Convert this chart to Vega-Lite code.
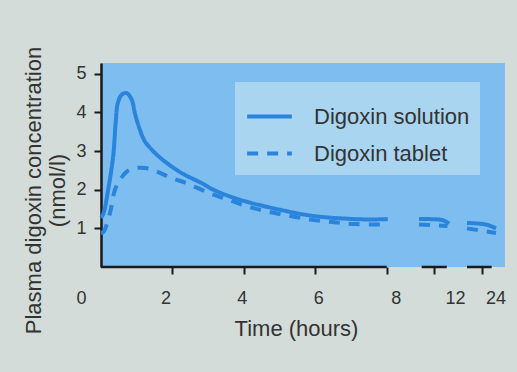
{
  "$schema": "https://vega.github.io/schema/vega-lite/v6.json",
  "width": 404,
  "height": 204,
  "autosize": "none",
  "padding": {"left": 101, "top": 63, "right": 12, "bottom": 105},
  "background": "#d3dcd9",
  "config": {
    "view": {"fill": "#7dbdef", "stroke": null},
    "font": "Liberation Sans",
    "axis": {"labelFont": "Liberation Sans", "titleFont": "Liberation Sans", "labelColor": "#333333", "titleColor": "#333333", "titleFontWeight": "normal", "grid": false, "domainColor": "#1a1a1a", "tickColor": "#1a1a1a", "tickWidth": 2, "domainWidth": 2.5}
  },
  "datasets": {
    "curves": [
      {"series": "Digoxin solution", "seg": "a", "t": 0, "v": 1.27},
      {"series": "Digoxin solution", "seg": "a", "t": 0.07, "v": 1.39},
      {"series": "Digoxin solution", "seg": "a", "t": 0.2, "v": 2.0},
      {"series": "Digoxin solution", "seg": "a", "t": 0.34, "v": 2.86},
      {"series": "Digoxin solution", "seg": "a", "t": 0.41, "v": 3.72},
      {"series": "Digoxin solution", "seg": "a", "t": 0.47, "v": 4.24},
      {"series": "Digoxin solution", "seg": "a", "t": 0.58, "v": 4.46},
      {"series": "Digoxin solution", "seg": "a", "t": 0.72, "v": 4.5},
      {"series": "Digoxin solution", "seg": "a", "t": 0.86, "v": 4.33},
      {"series": "Digoxin solution", "seg": "a", "t": 0.95, "v": 3.98},
      {"series": "Digoxin solution", "seg": "a", "t": 1.09, "v": 3.55},
      {"series": "Digoxin solution", "seg": "a", "t": 1.23, "v": 3.25},
      {"series": "Digoxin solution", "seg": "a", "t": 1.47, "v": 2.99},
      {"series": "Digoxin solution", "seg": "a", "t": 1.79, "v": 2.73},
      {"series": "Digoxin solution", "seg": "a", "t": 2.26, "v": 2.43},
      {"series": "Digoxin solution", "seg": "a", "t": 2.82, "v": 2.17},
      {"series": "Digoxin solution", "seg": "a", "t": 3.15, "v": 2.0},
      {"series": "Digoxin solution", "seg": "a", "t": 3.6, "v": 1.83},
      {"series": "Digoxin solution", "seg": "a", "t": 4.08, "v": 1.69},
      {"series": "Digoxin solution", "seg": "a", "t": 5.02, "v": 1.48},
      {"series": "Digoxin solution", "seg": "a", "t": 5.95, "v": 1.32},
      {"series": "Digoxin solution", "seg": "a", "t": 6.89, "v": 1.25},
      {"series": "Digoxin solution", "seg": "a", "t": 7.5, "v": 1.23},
      {"series": "Digoxin solution", "seg": "a", "t": 8.1, "v": 1.24},
      {"series": "Digoxin solution", "seg": "b", "t": 11, "v": 1.24},
      {"series": "Digoxin solution", "seg": "b", "t": 12.6, "v": 1.21},
      {"series": "Digoxin solution", "seg": "b", "t": 13, "v": 1.12},
      {"series": "Digoxin solution", "seg": "c", "t": 23, "v": 1.14},
      {"series": "Digoxin solution", "seg": "c", "t": 24.3, "v": 1.1},
      {"series": "Digoxin solution", "seg": "c", "t": 25, "v": 1.0},
      {"series": "Digoxin tablet", "seg": "a", "t": 0, "v": 0.88},
      {"series": "Digoxin tablet", "seg": "a", "t": 0.07, "v": 0.91},
      {"series": "Digoxin tablet", "seg": "a", "t": 0.25, "v": 1.39},
      {"series": "Digoxin tablet", "seg": "a", "t": 0.39, "v": 2.0},
      {"series": "Digoxin tablet", "seg": "a", "t": 0.53, "v": 2.25},
      {"series": "Digoxin tablet", "seg": "a", "t": 0.72, "v": 2.47},
      {"series": "Digoxin tablet", "seg": "a", "t": 0.95, "v": 2.56},
      {"series": "Digoxin tablet", "seg": "a", "t": 1.23, "v": 2.56},
      {"series": "Digoxin tablet", "seg": "a", "t": 1.56, "v": 2.47},
      {"series": "Digoxin tablet", "seg": "a", "t": 1.98, "v": 2.3},
      {"series": "Digoxin tablet", "seg": "a", "t": 2.4, "v": 2.17},
      {"series": "Digoxin tablet", "seg": "a", "t": 3.01, "v": 1.92},
      {"series": "Digoxin tablet", "seg": "a", "t": 3.57, "v": 1.74},
      {"series": "Digoxin tablet", "seg": "a", "t": 4.13, "v": 1.56},
      {"series": "Digoxin tablet", "seg": "a", "t": 4.69, "v": 1.43},
      {"series": "Digoxin tablet", "seg": "a", "t": 5.3, "v": 1.32},
      {"series": "Digoxin tablet", "seg": "a", "t": 5.91, "v": 1.22},
      {"series": "Digoxin tablet", "seg": "a", "t": 6.52, "v": 1.16},
      {"series": "Digoxin tablet", "seg": "a", "t": 7.13, "v": 1.11},
      {"series": "Digoxin tablet", "seg": "a", "t": 7.9, "v": 1.1},
      {"series": "Digoxin tablet", "seg": "b", "t": 11, "v": 1.1},
      {"series": "Digoxin tablet", "seg": "b", "t": 12.9, "v": 1.06},
      {"series": "Digoxin tablet", "seg": "c", "t": 23, "v": 1.0},
      {"series": "Digoxin tablet", "seg": "c", "t": 25, "v": 0.88}
    ],
    "axisSegments": [
      {"from": 0, "to": 8},
      {"from": 11.18, "to": 12.85},
      {"from": 23.0, "to": 24.7}
    ]
  },
  "layer": [
    {
      "data": {"name": "axisSegments"},
      "mark": {"type": "rule", "color": "#1a1a1a", "strokeWidth": 2.5},
      "encoding": {
        "x": {"field": "from", "type": "quantitative"},
        "x2": {"field": "to"},
        "y": {"datum": 0, "type": "quantitative"}
      }
    },
    {
      "data": {"name": "curves"},
      "mark": {"type": "line", "color": "#2a84dc", "strokeWidth": 4, "interpolate": "catmull-rom", "strokeCap": "butt"},
      "encoding": {
        "x": {
          "field": "t", "type": "quantitative",
          "scale": {"domain": [0, 8, 11, 13, 23, 25, 26], "range": [0, 285.7, 318, 348, 366, 395, 404], "nice": false, "zero": false},
          "axis": {
            "title": "Time (hours)", "titleFontSize": 22, "titleX": 195, "titleY": 68, "titleBaseline": "alphabetic", "titleAnchor": "middle", "titleAlign": "center",
            "values": [0, 2, 4, 6, 8, 12, 24], "domain": false, "labelFontSize": 18, "tickSize": 7, "labelPadding": 15,
            "labelOffset": {"condition": [
              {"test": "datum.value == 0", "value": -20},
              {"test": "datum.value == 2", "value": -7},
              {"test": "datum.value == 4", "value": -2},
              {"test": "datum.value == 6", "value": 3},
              {"test": "datum.value == 8", "value": 9},
              {"test": "datum.value == 12", "value": 21},
              {"test": "datum.value == 24", "value": 14}
            ], "value": 0},
            "tickOpacity": {"condition": {"test": "datum.value == 0", "value": 0}, "value": 1},
            "labelFlush": false, "labelOverlap": false
          }
        },
        "y": {
          "field": "v", "type": "quantitative",
          "scale": {"domain": [0, 5.28], "nice": false},
          "axis": {
            "title": ["Plasma digoxin concentration", "(nmol/l)"], "titleFontSize": 22, "titleLineHeight": 24,
            "titleAngle": -90, "titleX": -78, "titleY": 127, "titleBaseline": "top", "titleAlign": "center",
            "values": [1, 2, 3, 4, 5], "labelFontSize": 18, "tickSize": 7, "labelPadding": 8
          }
        },
        "detail": {"field": "seg"},
        "strokeDash": {
          "field": "series", "type": "nominal",
          "scale": {"domain": ["Digoxin solution", "Digoxin tablet"], "range": [[1, 0], [11, 9]]},
          "legend": {
            "title": null, "orient": "none", "legendX": 134, "legendY": 19,
            "fillColor": "#a9d5f1", "padding": 10, "labelFontSize": 22, "labelFont": "Liberation Sans", "labelColor": "#333333",
            "symbolType": "stroke", "symbolSize": 2000, "symbolStrokeWidth": 4, "symbolStrokeColor": "#2a84dc",
            "rowPadding": 1, "labelOffset": 20
          }
        }
      }
    }
  ]
}
